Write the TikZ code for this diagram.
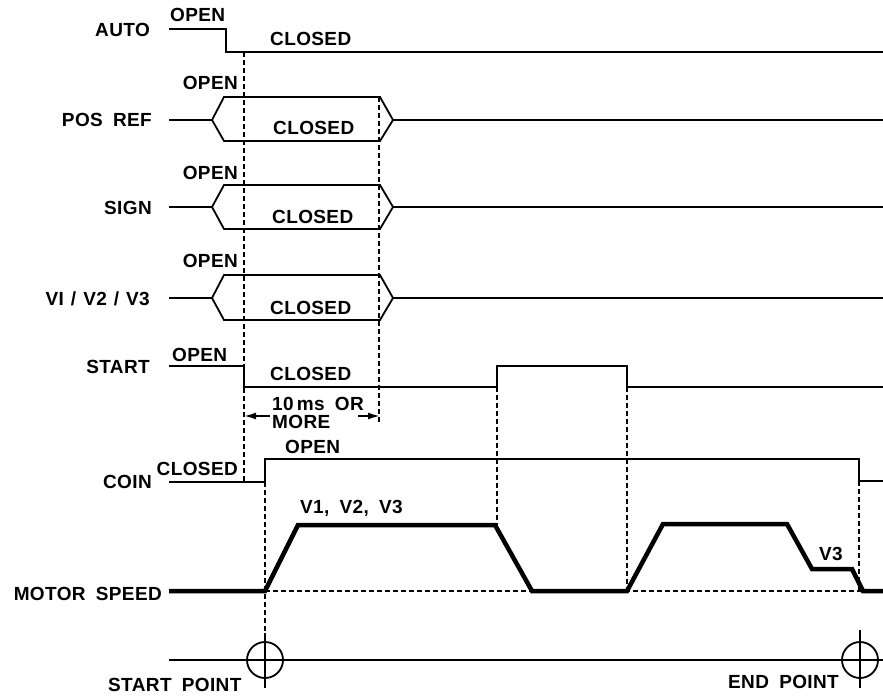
\documentclass[tikz,border=0pt]{standalone}
\usepackage{fontspec}
\setmainfont{Liberation Sans}[LetterSpace=2,WordSpace=1.8]
\usetikzlibrary{arrows.meta}
\begin{document}
\begin{tikzpicture}[x=1pt,y=-1pt,
  sig/.style={line width=1.8pt,line join=miter},
  motor/.style={line width=4.5pt,line join=miter},
  dsh/.style={line width=1.5pt,dash pattern=on 5pt off 3pt},
  lbl/.style={inner sep=0pt,font=\fontsize{19}{21}\selectfont\bfseries},
  dim/.style={line width=1.8pt,-{Latex[length=12pt,width=7pt]}}]
\useasboundingbox (0,0) rectangle (883,698);
\fill[white] (0,0) rectangle (883,698);
% left labels
\node[lbl,anchor=base east] (lauto) at (150,37) {AUTO};
\node[lbl,anchor=base east] (lpos) at (152,127) {POS REF};
\node[lbl,anchor=base east] (lsign) at (152,214) {SIGN};
\node[lbl,anchor=base east] (lvi) at (150,305) {VI\hspace{7pt}/\hspace{7pt}V2\hspace{7pt}/\hspace{7pt}V3};
\node[lbl,anchor=base east] (lstart) at (150,373) {START};
\node[lbl,anchor=base east] (lcoin) at (152,488) {COIN};
\node[lbl,anchor=base east] (lmotor) at (162,600) {MOTOR SPEED};
% state labels
\node[lbl,anchor=base west] (ao) at (170,22) {OPEN};
\node[lbl,anchor=base west] (ac) at (270,46) {CLOSED};
\node[lbl,anchor=base east] (po) at (238,90) {OPEN};
\node[lbl,anchor=base west] (pc) at (273,135) {CLOSED};
\node[lbl,anchor=base east] (so) at (238,179) {OPEN};
\node[lbl,anchor=base west] (sc) at (272,223) {CLOSED};
\node[lbl,anchor=base east] (vo) at (238,267) {OPEN};
\node[lbl,anchor=base west] (vc) at (270,314) {CLOSED};
\node[lbl,anchor=base west] (sto) at (172,361) {OPEN};
\node[lbl,anchor=base west] (stc) at (270,380) {CLOSED};
\node[lbl,anchor=base west] (t10) at (272,410) {10\,ms OR};
\node[lbl,anchor=base west] (tmore) at (272,428) {MORE};
\node[lbl,anchor=base east] (cc) at (238,475) {CLOSED};
\node[lbl,anchor=base west] (co) at (285,453) {OPEN};
\node[lbl,anchor=base west] (vv) at (300,513) {V1, V2, V3};
\node[lbl,anchor=base west] (v3) at (819,560) {V3};
\node[lbl,anchor=base west] (sp) at (108,691) {START POINT};
\node[lbl,anchor=base west] (ep) at (728,688) {END POINT};
% signals
\draw[sig] (169,29) -- (226,29) -- (226,52) -- (883,52);
\foreach \m/\t/\b in {120/97/141, 207/185/229, 298/275/320}{
  \draw[sig] (169,\m) -- (212,\m) -- (224,\t) -- (380,\t) -- (393,\m) -- (883,\m);
  \draw[sig] (212,\m) -- (224,\b) -- (380,\b) -- (393,\m);
}
\draw[sig] (169,366) -- (244,366) -- (244,387) -- (497,387) -- (497,366) -- (627,366) -- (627,387) -- (883,387);
\draw[sig] (169,482) -- (265,482) -- (265,459) -- (859,459) -- (859,481) -- (883,481);
% dashed
\coordinate (d1a) at (244,52); \coordinate (d1b) at (244,482);
\coordinate (d2a) at (379,97); \coordinate (d2b) at (379,422);
\coordinate (d3a) at (265,482); \coordinate (d3b) at (265,636);
\coordinate (d4a) at (497,387); \coordinate (d4b) at (497,525);
\coordinate (d5a) at (627,387); \coordinate (d5b) at (627,591);
\coordinate (d6a) at (859,481); \coordinate (d6b) at (859,591);
\coordinate (bla) at (265,591); \coordinate (blb) at (883,591);
\draw[dsh] (d1a) -- (d1b);
\draw[dsh] (d2a) -- (d2b);
\draw[dsh] (d3a) -- (d3b);
\draw[dsh] (d4a) -- (d4b);
\draw[dsh] (d5a) -- (d5b);
\draw[dsh] (d6a) -- (d6b);
\draw[dsh] (bla) -- (blb);
% 10 ms arrows
\coordinate (a1t) at (270,416); \coordinate (a1h) at (244,416);
\coordinate (a2t) at (358,416); \coordinate (a2h) at (380,416);
\draw[dim] (a1t) -- (a1h);
\draw[dim] (a2t) -- (a2h);
% motor speed
\draw[motor] (169,591) -- (265,591) -- (298,525) -- (495,525) -- (532,591) -- (627,591) -- (663,524) -- (787,524) -- (812,569) -- (852,569) -- (863,591) -- (883,591);
% bottom line and points
\draw[sig] (169,660) -- (883,660);
\node[circle,draw,line width=1.8pt,minimum size=36pt,inner sep=0pt] (cs) at (265,660) {};
\node[circle,draw,line width=1.8pt,minimum size=36pt,inner sep=0pt] (ce) at (860,660) {};
\draw[sig] (265,633) -- (265,688);
\draw[sig] (860,630) -- (860,688);
\end{tikzpicture}
\end{document}
